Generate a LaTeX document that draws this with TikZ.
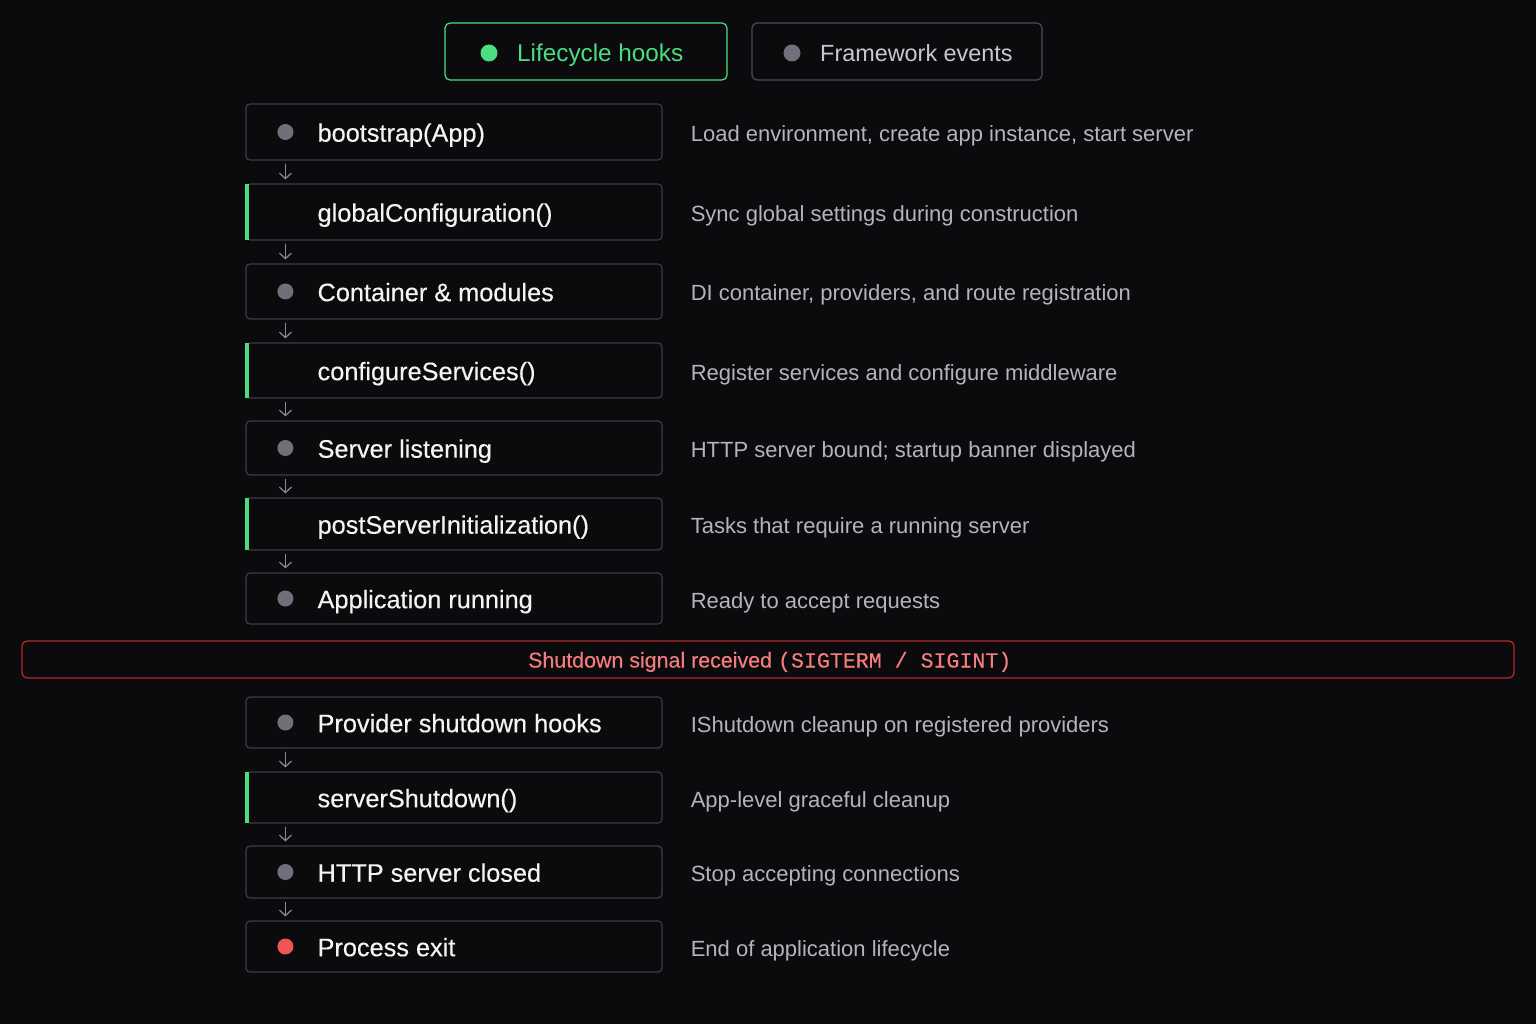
\documentclass[tikz,border=0pt]{standalone}
\usepackage{fontspec}
\setmainfont{Liberation Sans}
\newfontfamily\titlefont[FakeBold=0.35]{Liberation Sans}
\newfontfamily\bannerfont[FakeBold=0.2]{Liberation Sans}
\newfontfamily\bannermono[FakeBold=0.2]{Liberation Mono}
\usetikzlibrary{arrows.meta}
\definecolor{bgc}{HTML}{0B0B0E}
\definecolor{boxline}{HTML}{3C3C44}
\definecolor{dotgray}{HTML}{70707A}
\definecolor{titlec}{HTML}{F4F4F4}
\definecolor{descc}{HTML}{B4B4BC}
\definecolor{hookgreen}{HTML}{4ADE80}
\definecolor{bannerline}{HTML}{B02A2A}
\definecolor{bannertext}{HTML}{F47C7C}
\definecolor{reddot}{HTML}{F05555}
\definecolor{arrowc}{HTML}{8A8A94}
\definecolor{legline}{HTML}{4A4A52}
\definecolor{legtext}{HTML}{C8C8D0}
\tikzset{
  stepbox/.style={draw=boxline, line width=1.2pt, rounded corners=4pt, minimum width=416pt, minimum height=#1, inner sep=0pt},
  steptext/.style={anchor=west, inner sep=0pt, text=titlec, font=\titlefont\fontsize{25.3}{30}\selectfont, text height=24pt, text depth=4.6pt},
  desctext/.style={anchor=west, inner sep=0pt, text=descc, font=\fontsize{22}{26}\selectfont, text height=21pt, text depth=2pt},
  legtextstyle/.style={anchor=west, inner sep=0pt, font=\fontsize{24.3}{28}\selectfont, text height=24pt, text depth=4pt},
  stepdot/.style={circle, fill=#1, minimum size=16pt, inner sep=0pt},
  flowarrow/.style={draw=arrowc, line width=1.2pt, -{Straight Barb[length=5.5pt,width=12pt]}},
  legbox/.style={draw=#1, line width=1.2pt, rounded corners=5pt, minimum height=57pt, inner sep=0pt},
}
\begin{document}
\begin{tikzpicture}[x=1pt,y=-1pt]
\fill[bgc] (0,0) rectangle (1536,1024);
\useasboundingbox (0,0) rectangle (1536,1024);

% legend
\node[legbox=hookgreen, minimum width=282pt] (lh) at (586,51.5) {};
\node[stepdot=hookgreen, minimum size=17pt] (lhd) at (489,53) {};
\node[legtextstyle, text=hookgreen] (lht) at (517,51.5) {Lifecycle hooks};
\node[legbox=legline, minimum width=290pt] (fe) at (897,51.5) {};
\node[stepdot=dotgray, minimum size=17pt] (fed) at (792,53) {};
\node[legtextstyle, text=legtext, font=\fontsize{23.4}{28}\selectfont] (fet) at (820,51.5) {Framework events};

% steps
\node[stepbox=56pt] (b1) at (454,132) {};
\node[stepbox=56pt] (b2) at (454,212) {};
\node[stepbox=55pt] (b3) at (454,291.5) {};
\node[stepbox=55pt] (b4) at (454,370.5) {};
\node[stepbox=54pt] (b5) at (454,448) {};
\node[stepbox=52pt] (b6) at (454,524) {};
\node[stepbox=51pt] (b7) at (454,598.5) {};
\node[stepbox=51pt] (b8) at (454,722.5) {};
\node[stepbox=51pt] (b9) at (454,797.5) {};
\node[stepbox=52pt] (b10) at (454,872) {};
\node[stepbox=51pt] (b11) at (454,946.5) {};

% green hook bars
\fill[hookgreen] ([yshift=-0.6pt]b2.north west) rectangle ([xshift=4pt,yshift=0.6pt]b2.south west);
\fill[hookgreen] ([yshift=-0.6pt]b4.north west) rectangle ([xshift=4pt,yshift=0.6pt]b4.south west);
\fill[hookgreen] ([yshift=-0.6pt]b6.north west) rectangle ([xshift=4pt,yshift=0.6pt]b6.south west);
\fill[hookgreen] ([yshift=-0.6pt]b9.north west) rectangle ([xshift=4pt,yshift=0.6pt]b9.south west);

% dots
\node[stepdot=dotgray] (c1) at ([xshift=40pt]b1.west) {};
\node[stepdot=dotgray] (c3) at ([xshift=40pt]b3.west) {};
\node[stepdot=dotgray] (c5) at ([xshift=40pt]b5.west) {};
\node[stepdot=dotgray] (c7) at ([xshift=40pt]b7.west) {};
\node[stepdot=dotgray] (c8) at ([xshift=40pt]b8.west) {};
\node[stepdot=dotgray] (c10) at ([xshift=40pt]b10.west) {};
\node[stepdot=reddot] (c11) at ([xshift=40pt]b11.west) {};

% titles
\node[steptext] (t1) at ([xshift=72pt]b1.west) {bootstrap(App)};
\node[steptext] (t2) at ([xshift=72pt]b2.west) {globalConfiguration()};
\node[steptext] (t3) at ([xshift=72pt]b3.west) {Container \& modules};
\node[steptext] (t4) at ([xshift=72pt]b4.west) {configureServices()};
\node[steptext] (t5) at ([xshift=72pt]b5.west) {Server listening};
\node[steptext] (t6) at ([xshift=72pt]b6.west) {postServerInitialization()};
\node[steptext] (t7) at ([xshift=72pt]b7.west) {Application running};
\node[steptext] (t8) at ([xshift=72pt]b8.west) {Provider shutdown hooks};
\node[steptext] (t9) at ([xshift=72pt]b9.west) {serverShutdown()};
\node[steptext] (t10) at ([xshift=72pt]b10.west) {HTTP server closed};
\node[steptext] (t11) at ([xshift=72pt]b11.west) {Process exit};

% descriptions
\node[desctext] (d1) at ([xshift=28pt]b1.east) {Load environment, create app instance, start server};
\node[desctext] (d2) at ([xshift=28pt]b2.east) {Sync global settings during construction};
\node[desctext] (d3) at ([xshift=28pt]b3.east) {DI container, providers, and route registration};
\node[desctext] (d4) at ([xshift=28pt]b4.east) {Register services and configure middleware};
\node[desctext] (d5) at ([xshift=28pt]b5.east) {HTTP server bound; startup banner displayed};
\node[desctext] (d6) at ([xshift=28pt]b6.east) {Tasks that require a running server};
\node[desctext] (d7) at ([xshift=28pt]b7.east) {Ready to accept requests};
\node[desctext] (d8) at ([xshift=28pt]b8.east) {IShutdown cleanup on registered providers};
\node[desctext] (d9) at ([xshift=28pt]b9.east) {App-level graceful cleanup};
\node[desctext] (d10) at ([xshift=28pt]b10.east) {Stop accepting connections};
\node[desctext] (d11) at ([xshift=28pt]b11.east) {End of application lifecycle};

% banner
\node[draw=bannerline, line width=1.3pt, rounded corners=5pt, minimum width=1492pt, minimum height=37pt, inner sep=0pt] (sig) at (768,659.5) {};
\node[text=bannertext, inner sep=0pt, anchor=west, text height=19pt, text depth=3pt] (sigt) at (528,659.5) {\bannerfont\fontsize{21.4}{24}\selectfont Shutdown signal received {\bannermono\fontsize{21.6}{24}\selectfont(SIGTERM / SIGINT)}};

% arrows
\draw[flowarrow] ([xshift=40pt,yshift=-3pt]b1.south west) -- ([xshift=40pt,yshift=4pt]b2.north west);
\draw[flowarrow] ([xshift=40pt,yshift=-3pt]b2.south west) -- ([xshift=40pt,yshift=4pt]b3.north west);
\draw[flowarrow] ([xshift=40pt,yshift=-3pt]b3.south west) -- ([xshift=40pt,yshift=4pt]b4.north west);
\draw[flowarrow] ([xshift=40pt,yshift=-3pt]b4.south west) -- ([xshift=40pt,yshift=4pt]b5.north west);
\draw[flowarrow] ([xshift=40pt,yshift=-3pt]b5.south west) -- ([xshift=40pt,yshift=4pt]b6.north west);
\draw[flowarrow] ([xshift=40pt,yshift=-3pt]b6.south west) -- ([xshift=40pt,yshift=4pt]b7.north west);
\draw[flowarrow] ([xshift=40pt,yshift=-3pt]b8.south west) -- ([xshift=40pt,yshift=4pt]b9.north west);
\draw[flowarrow] ([xshift=40pt,yshift=-3pt]b9.south west) -- ([xshift=40pt,yshift=4pt]b10.north west);
\draw[flowarrow] ([xshift=40pt,yshift=-3pt]b10.south west) -- ([xshift=40pt,yshift=4pt]b11.north west);
\end{tikzpicture}
\end{document}
